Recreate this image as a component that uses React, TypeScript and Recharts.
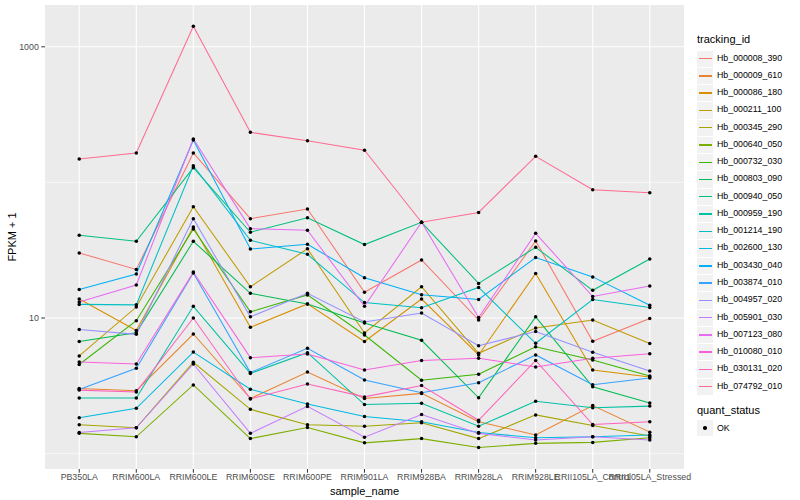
import { CartesianGrid, Label, Line, LineChart, XAxis, YAxis } from "recharts";

const samples = [
  "PB350LA",
  "RRIM600LA",
  "RRIM600LE",
  "RRIM600SE",
  "RRIM600PE",
  "RRIM901LA",
  "RRIM928BA",
  "RRIM928LA",
  "RRIM928LE",
  "RRII105LA_Control",
  "RRII105LA_Stressed"
];

const trackingIds = [
  "Hb_000008_390",
  "Hb_000009_610",
  "Hb_000086_180",
  "Hb_000211_100",
  "Hb_000345_290",
  "Hb_000640_050",
  "Hb_000732_030",
  "Hb_000803_090",
  "Hb_000940_050",
  "Hb_000959_190",
  "Hb_001214_190",
  "Hb_002600_130",
  "Hb_003430_040",
  "Hb_003874_010",
  "Hb_004957_020",
  "Hb_005901_030",
  "Hb_007123_080",
  "Hb_010080_010",
  "Hb_030131_020",
  "Hb_074792_010"
];

const colors = [
  "#F8766D", "#EA8331", "#D89000", "#C09B00", "#A3A500",
  "#7CAE00", "#39B600", "#00BB4E", "#00BF7D", "#00C1A3",
  "#00BFC4", "#00BAE0", "#00B0F6", "#35A2FF", "#9590FF",
  "#C77CFF", "#E76BF3", "#FA62DB", "#FF62BC", "#FF6C91"
];

// FPKM + 1 per sample, same order as samples
const hb_000008_390 = [30.2, 22.8, 164.8, 54.0, 63.7, 15.5, 26.8, 9.66, 37.0, 6.74, 9.92];
const hb_000009_610 = [3.02, 2.91, 7.62, 2.55, 4.0, 2.55, 2.78, 1.72, 1.37, 2.26, 1.44];
const hb_000086_180 = [13.8, 8.09, 46.9, 8.54, 12.7, 6.71, 13.8, 5.34, 21.3, 4.14, 3.67];
const hb_000211_100 = [5.25, 12.05, 66.2, 17.0, 32.4, 7.75, 17.0, 5.49, 8.44, 9.66, 6.49];
const hb_000345_290 = [1.63, 1.55, 4.71, 2.12, 1.63, 1.59, 1.69, 1.29, 1.93, 1.61, 1.35];
const hb_000640_050 = [1.41, 1.33, 3.21, 1.29, 1.56, 1.2, 1.29, 1.11, 1.19, 1.21, 1.31];
const hb_000732_030 = [4.54, 9.55, 45.3, 11.1, 14.8, 7.49, 3.48, 3.85, 6.14, 4.9, 3.73];
const hb_000803_090 = [6.71, 7.79, 36.8, 15.2, 12.7, 9.19, 6.85, 2.58, 10.2, 3.11, 2.36];
const hb_000940_050 = [40.7, 36.8, 128.4, 42.9, 54.9, 34.8, 50.8, 18.0, 33.2, 16.0, 27.2];
const hb_000959_190 = [2.57, 2.57, 12.2, 3.9, 5.55, 2.3, 2.35, 1.59, 2.43, 2.18, 2.24];
const hb_001214_190 = [12.6, 12.5, 132.8, 37.4, 29.5, 13.0, 11.9, 16.8, 6.51, 13.7, 11.95];
const hb_002600_130 = [1.84, 2.16, 5.61, 2.98, 2.32, 1.88, 1.72, 1.43, 1.31, 1.33, 1.37];
const hb_003430_040 = [16.2, 21.1, 205.5, 32.3, 35.0, 19.8, 14.85, 13.7, 27.9, 20.1, 12.4];
const hb_003874_010 = [2.97, 4.26, 21.5, 3.96, 5.98, 3.49, 2.81, 3.33, 5.34, 3.22, 3.61];
const hb_004957_020 = [8.23, 7.58, 54.0, 10.2, 15.2, 9.34, 10.9, 6.25, 7.95, 5.59, 4.07];
const hb_005901_030 = [1.43, 1.55, 4.58, 1.41, 2.23, 1.32, 1.94, 1.41, 1.26, 1.33, 1.26];
const hb_007123_080 = [13.1, 17.5, 208.9, 45.6, 44.4, 12.2, 50.8, 10.1, 42.1, 14.4, 17.2];
const hb_010080_010 = [4.74, 4.58, 21.8, 5.1, 5.43, 4.14, 4.86, 5.05, 4.35, 5.05, 5.45];
const hb_030131_020 = [2.94, 2.85, 10.0, 2.53, 3.26, 2.62, 3.18, 1.76, 4.86, 1.64, 1.72];
const hb_074792_010 = [148.8, 164.8, 1417, 234, 203, 173, 50.8, 60.0, 155.7, 88.3, 84.0];

const seriesValues = [
  hb_000008_390, hb_000009_610, hb_000086_180, hb_000211_100, hb_000345_290,
  hb_000640_050, hb_000732_030, hb_000803_090, hb_000940_050, hb_000959_190,
  hb_001214_190, hb_002600_130, hb_003430_040, hb_003874_010, hb_004957_020,
  hb_005901_030, hb_007123_080, hb_010080_010, hb_030131_020, hb_074792_010
];

const yMajorTicks = [10, 1000];
const yMinorTicks = [1, 100];

const chartData = samples.map((name, i) => {
  const row: Record<string, number | string> = { idx: i, name };
  trackingIds.forEach((id, s) => {
    row[id] = seriesValues[s][i];
  });
  return row;
});

const FONT = '"Liberation Sans", Arial, Helvetica, sans-serif';

function LegendPanel() {
  return (
    <div style={{ position: "absolute", left: 697, top: 0, fontFamily: FONT }}>
      <div style={{ position: "absolute", top: 33, left: 0, fontSize: 11, whiteSpace: "nowrap" }}>
        tracking_id
      </div>
      {trackingIds.map((id, i) => (
        <div key={id} style={{ position: "absolute", top: 50 + i * 17.27, left: 0, height: 17, width: 100 }}>
          <div style={{ position: "absolute", left: 0, top: 0.5, width: 16.3, height: 16.3, background: "#F2F2F2" }}>
            <div style={{ position: "absolute", left: 1.5, top: 7.4, width: 13.3, height: 1.4, background: colors[i] }} />
          </div>
          <div style={{ position: "absolute", left: 20, top: 2.5, fontSize: 8.8, whiteSpace: "nowrap", color: "#000" }}>
            {id}
          </div>
        </div>
      ))}
      <div style={{ position: "absolute", top: 404, left: 0, fontSize: 11, whiteSpace: "nowrap" }}>
        quant_status
      </div>
      <div style={{ position: "absolute", top: 420, left: 0, width: 16.3, height: 16.3, background: "#F2F2F2" }}>
        <div style={{ position: "absolute", left: 6.3, top: 6.3, width: 3.6, height: 3.6, borderRadius: "50%", background: "#000" }} />
      </div>
      <div style={{ position: "absolute", top: 423, left: 20, fontSize: 8.8 }}>OK</div>
    </div>
  );
}

export default function App() {
  return (
    <div style={{ position: "absolute", left: 0, top: 0, width: 800, height: 500, background: "#fff" }}>
      <LineChart
        width={800}
        height={500}
        data={chartData}
        margin={{ top: 5, right: 116, bottom: 0, left: 0 }}
        style={{ fontFamily: FONT }}
      >
        <CartesianGrid
          fill="#EBEBEB"
          stroke="#FFFFFF"
          strokeWidth={0.55}
          horizontalValues={yMinorTicks}
          vertical={false}
        />
        <CartesianGrid
          stroke="#FFFFFF"
          strokeWidth={1.1}
          horizontalValues={yMajorTicks}
          verticalValues={samples.map((_, i) => i)}
        />
        <XAxis
          dataKey="idx"
          type="number"
          domain={[-0.6, 10.6]}
          ticks={samples.map((_, i) => i)}
          interval={0}
          tickFormatter={(v: number) => samples[v]}
          axisLine={false}
          tickLine={{ stroke: "#333333" }}
          tickSize={3.7}
          tickMargin={1.5}
          height={31}
          tick={{ fill: "#4D4D4D", fontSize: 8.8 }}
        >
          <Label value="sample_name" position="insideBottom" offset={5} style={{ fontSize: 11, fill: "#000" }} />
        </XAxis>
        <YAxis
          type="number"
          scale="log"
          domain={[0.77, 2034]}
          allowDataOverflow
          ticks={yMajorTicks}
          axisLine={false}
          tickLine={{ stroke: "#333333" }}
          tickSize={3.7}
          tickMargin={2.5}
          width={45}
          tick={{ fill: "#4D4D4D", fontSize: 8.8 }}
        >
          <Label
            value="FPKM + 1"
            angle={-90}
            position="insideLeft"
            offset={12}
            style={{ textAnchor: "middle", fontSize: 11, fill: "#000" }}
          />
        </YAxis>
        {trackingIds.map((id, i) => (
          <Line
            key={id}
            dataKey={id}
            stroke={colors[i]}
            strokeWidth={1.05}
            dot={false}
            activeDot={false}
            type="linear"
            isAnimationActive={false}
          />
        ))}
        {trackingIds.map((id) => (
          <Line
            key={`pt-${id}`}
            dataKey={id}
            stroke="none"
            dot={{ r: 1.75, fill: "#000000", stroke: "none" }}
            activeDot={false}
            legendType="none"
            isAnimationActive={false}
          />
        ))}
      </LineChart>
      <LegendPanel />
    </div>
  );
}
